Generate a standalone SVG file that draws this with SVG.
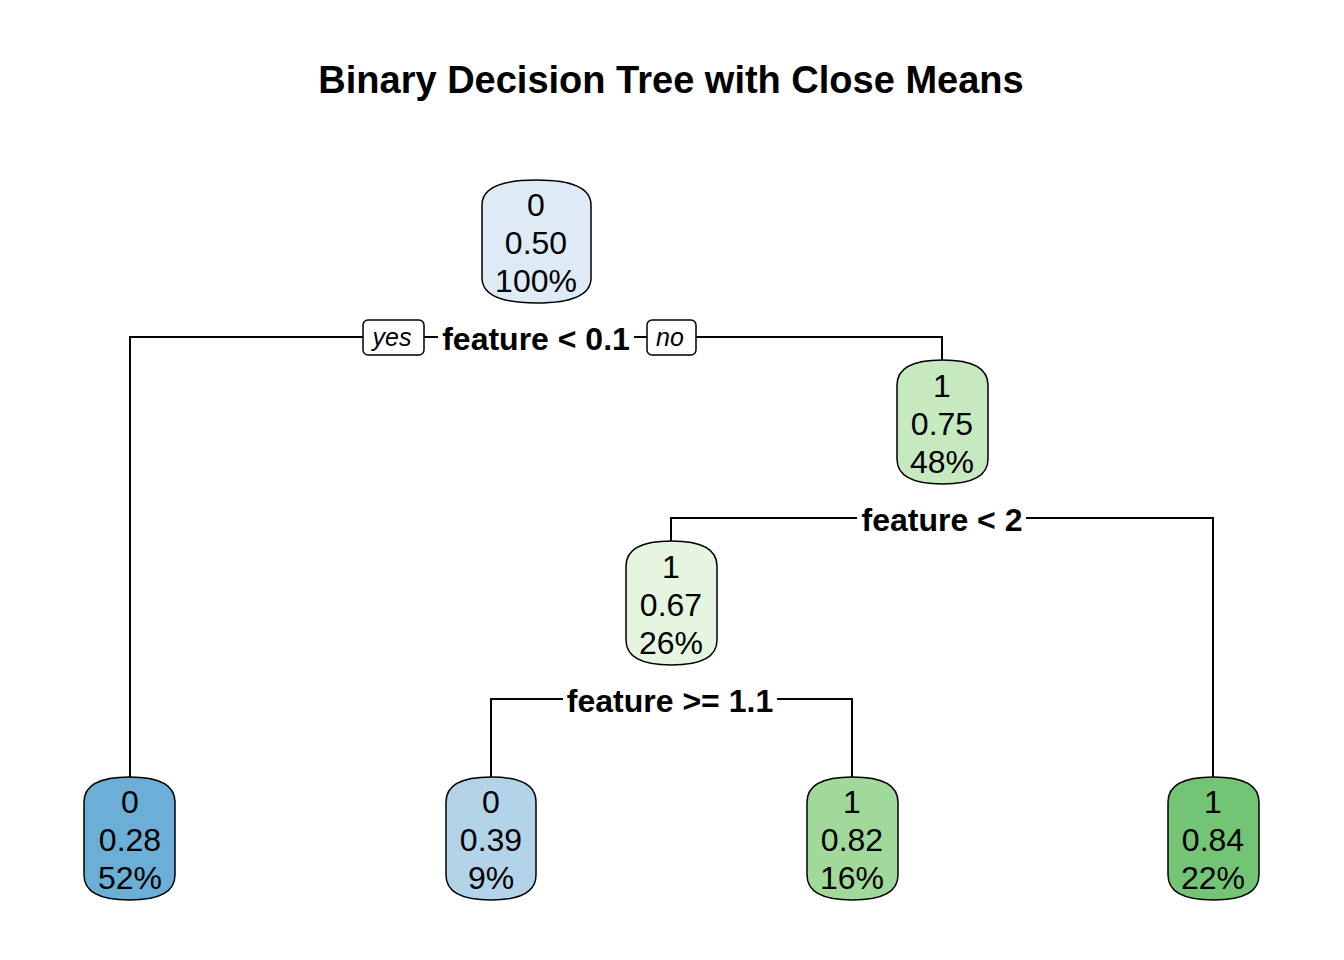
<svg xmlns="http://www.w3.org/2000/svg" width="1344" height="960" viewBox="0 0 1344 960">
<style>
.title{font-family:"Liberation Sans",Arial,sans-serif;font-weight:bold;font-size:38px;fill:#000;text-anchor:middle}
.nt{font-family:"Liberation Sans",Arial,sans-serif;font-size:32px;fill:#000;text-anchor:middle}
.split{font-family:"Liberation Sans",Arial,sans-serif;font-weight:bold;font-size:32px;fill:#000;text-anchor:middle}
.yn{font-family:"Liberation Sans",Arial,sans-serif;font-style:italic;font-size:25px;fill:#000;text-anchor:middle}
.box{stroke:#000;stroke-width:1.5}
.edge{stroke:#000;stroke-width:2;fill:none}
.ynbox{fill:#fff;stroke:#000;stroke-width:1.5}
</style>
<rect width="1344" height="960" fill="#fff"/>
<text class="title" x="671" y="93">Binary Decision Tree with Close Means</text>
<g id="connectors">
<path class="edge" d="M363,337 H130 V777"/>
<path class="edge" d="M424,337 H438"/>
<path class="edge" d="M634,337 H647"/>
<path class="edge" d="M696,337 H942 V360"/>
<path class="edge" d="M857,518 H671 V541"/>
<path class="edge" d="M1026,518 H1213 V777"/>
<path class="edge" d="M563,699 H491 V777"/>
<path class="edge" d="M777,699 H852 V777"/>
<rect class="ynbox" x="363" y="320" width="61" height="35" rx="5"/>
<text class="yn" x="392" y="346">yes</text>
<rect class="ynbox" x="647" y="320" width="49" height="35" rx="5"/>
<text class="yn" x="670" y="346">no</text>
<text class="split" x="536" y="350">feature &lt; 0.1</text>
<text class="split" x="942" y="531">feature &lt; 2</text>
<text class="split" x="670" y="712">feature &gt;= 1.1</text>
</g>
<g id="node-root">
<path class="box" fill="#DEEAF6" d="M482,205 C482,186 505,180 536.5,180 C568,180 591,186 591,205 V278 C591,297 568,303 536.5,303 C505,303 482,297 482,278 Z"/>
<text class="nt" x="536" y="216">0</text>
<text class="nt" x="536" y="254">0.50</text>
<text class="nt" x="536" y="292">100%</text>
</g>
<g id="node-2">
<path class="box" fill="#C7E9C0" d="M897,385 C897,366 916,360 942.5,360 C969,360 988,366 988,385 V459 C988,478 969,484 942.5,484 C916,484 897,478 897,459 Z"/>
<text class="nt" x="942" y="397">1</text>
<text class="nt" x="942" y="435">0.75</text>
<text class="nt" x="942" y="473">48%</text>
</g>
<g id="node-3">
<path class="box" fill="#E5F5E0" d="M626,566 C626,547 645,541 671.5,541 C698,541 717,547 717,566 V640 C717,659 698,665 671.5,665 C645,665 626,659 626,640 Z"/>
<text class="nt" x="671" y="578">1</text>
<text class="nt" x="671" y="616">0.67</text>
<text class="nt" x="671" y="654">26%</text>
</g>
<g id="leaf-1">
<path class="box" fill="#6BAED6" d="M84,802 C84,783 103,777 129.5,777 C156,777 175,783 175,802 V875 C175,894 156,900 129.5,900 C103,900 84,894 84,875 Z"/>
<text class="nt" x="130" y="813">0</text>
<text class="nt" x="130" y="851">0.28</text>
<text class="nt" x="130" y="889">52%</text>
</g>
<g id="leaf-2">
<path class="box" fill="#B3D3E8" d="M446,802 C446,783 465,777 491,777 C517,777 536,783 536,802 V875 C536,894 517,900 491,900 C465,900 446,894 446,875 Z"/>
<text class="nt" x="491" y="813">0</text>
<text class="nt" x="491" y="851">0.39</text>
<text class="nt" x="491" y="889">9%</text>
</g>
<g id="leaf-3">
<path class="box" fill="#A1D99B" d="M807,802 C807,783 826,777 852.5,777 C879,777 898,783 898,802 V875 C898,894 879,900 852.5,900 C826,900 807,894 807,875 Z"/>
<text class="nt" x="852" y="813">1</text>
<text class="nt" x="852" y="851">0.82</text>
<text class="nt" x="852" y="889">16%</text>
</g>
<g id="leaf-4">
<path class="box" fill="#74C476" d="M1168,802 C1168,783 1187,777 1213.5,777 C1240,777 1259,783 1259,802 V875 C1259,894 1240,900 1213.5,900 C1187,900 1168,894 1168,875 Z"/>
<text class="nt" x="1213" y="813">1</text>
<text class="nt" x="1213" y="851">0.84</text>
<text class="nt" x="1213" y="889">22%</text>
</g>
</svg>
